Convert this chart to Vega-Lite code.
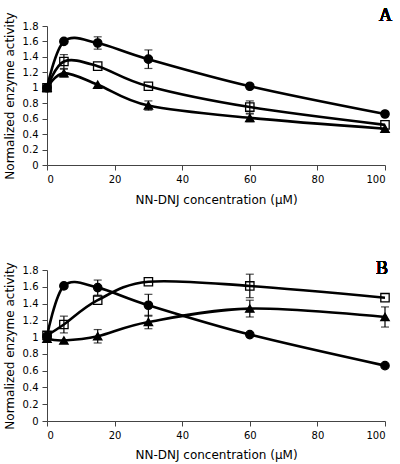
{
  "$schema": "https://vega.github.io/schema/vega-lite/v6.json",
  "padding": {"left": 3, "top": 6, "right": 5, "bottom": 2},
  "spacing": 54,
  "background": "white",
  "data": {"values": [
    {"panel": "A", "series": "circle", "x": 0, "y": 1.0, "err": 0},
    {"panel": "A", "series": "circle", "x": 5, "y": 1.6, "err": 0},
    {"panel": "A", "series": "circle", "x": 15, "y": 1.58, "err": 0.08},
    {"panel": "A", "series": "circle", "x": 30, "y": 1.37, "err": 0.12},
    {"panel": "A", "series": "circle", "x": 60, "y": 1.02, "err": 0},
    {"panel": "A", "series": "circle", "x": 100, "y": 0.66, "err": 0},
    {"panel": "A", "series": "square", "x": 0, "y": 1.0, "err": 0},
    {"panel": "A", "series": "square", "x": 5, "y": 1.34, "err": 0.09},
    {"panel": "A", "series": "square", "x": 15, "y": 1.28, "err": 0},
    {"panel": "A", "series": "square", "x": 30, "y": 1.02, "err": 0},
    {"panel": "A", "series": "square", "x": 60, "y": 0.75, "err": 0.08},
    {"panel": "A", "series": "square", "x": 100, "y": 0.52, "err": 0},
    {"panel": "A", "series": "triangle", "x": 0, "y": 1.0, "err": 0},
    {"panel": "A", "series": "triangle", "x": 5, "y": 1.19, "err": 0.05},
    {"panel": "A", "series": "triangle", "x": 15, "y": 1.04, "err": 0},
    {"panel": "A", "series": "triangle", "x": 30, "y": 0.77, "err": 0.06},
    {"panel": "A", "series": "triangle", "x": 60, "y": 0.61, "err": 0.05},
    {"panel": "A", "series": "triangle", "x": 100, "y": 0.47, "err": 0},
    {"panel": "B", "series": "circle", "x": 0, "y": 1.01, "err": 0},
    {"panel": "B", "series": "circle", "x": 5, "y": 1.61, "err": 0},
    {"panel": "B", "series": "circle", "x": 15, "y": 1.59, "err": 0.09},
    {"panel": "B", "series": "circle", "x": 30, "y": 1.38, "err": 0.13},
    {"panel": "B", "series": "circle", "x": 60, "y": 1.03, "err": 0},
    {"panel": "B", "series": "circle", "x": 100, "y": 0.66, "err": 0},
    {"panel": "B", "series": "square", "x": 0, "y": 1.02, "err": 0},
    {"panel": "B", "series": "square", "x": 5, "y": 1.15, "err": 0.1},
    {"panel": "B", "series": "square", "x": 15, "y": 1.44, "err": 0},
    {"panel": "B", "series": "square", "x": 30, "y": 1.66, "err": 0},
    {"panel": "B", "series": "square", "x": 60, "y": 1.61, "err": 0.14},
    {"panel": "B", "series": "square", "x": 100, "y": 1.47, "err": 0},
    {"panel": "B", "series": "triangle", "x": 0, "y": 0.98, "err": 0},
    {"panel": "B", "series": "triangle", "x": 5, "y": 0.96, "err": 0},
    {"panel": "B", "series": "triangle", "x": 15, "y": 1.01, "err": 0.08},
    {"panel": "B", "series": "triangle", "x": 30, "y": 1.18, "err": 0.08},
    {"panel": "B", "series": "triangle", "x": 60, "y": 1.34, "err": 0.1},
    {"panel": "B", "series": "triangle", "x": 100, "y": 1.24, "err": 0.12}
  ]},
  "config": {
    "view": {"stroke": null},
    "font": "DejaVu Sans",
    "axis": {
      "grid": false,
      "domainColor": "#444",
      "tickColor": "#444",
      "tickSize": 5,
      "labelColor": "black",
      "labelFont": "DejaVu Sans",
      "labelFontSize": 10,
      "titleFont": "DejaVu Sans",
      "titleFontSize": 12,
      "titleFontWeight": "normal",
      "titleColor": "black"
    }
  },
  "vconcat": [
    {
      "width": 338,
      "height": 139,
      "transform": [{"filter": "datum.panel == 'A'"}],
      "encoding": {
        "x": {"field": "x", "type": "quantitative", "scale": {"domain": [0, 100], "nice": false},
              "axis": {"values": [0, 20, 40, 60, 80, 100], "title": "NN-DNJ concentration (\u03bcM)", "labelPadding": 4, "titlePadding": 10}},
        "y": {"field": "y", "type": "quantitative", "scale": {"domain": [0, 1.8], "nice": false},
              "axis": {"values": [0, 0.2, 0.4, 0.6, 0.8, 1, 1.2, 1.4, 1.6, 1.8], "format": ".1~f", "title": "Normalized enzyme activity", "labelPadding": 4, "titlePadding": 6}}
      },
      "layer": [
        {"mark": {"type": "line", "interpolate": "cardinal", "color": "black", "strokeWidth": 2.6},
         "encoding": {"detail": {"field": "series"}}},
        {"transform": [{"filter": "datum.err > 0"}],
         "mark": {"type": "errorbar", "color": "black", "thickness": 1.2, "ticks": {"size": 8, "color": "black"}},
         "encoding": {"yError": {"field": "err"}}},
        {"mark": {"type": "point", "filled": true, "opacity": 1, "size": 70, "stroke": "black", "strokeWidth": 1.3},
         "encoding": {
           "shape": {"field": "series", "type": "nominal", "scale": {"domain": ["circle", "square", "triangle"], "range": ["circle", "square", "triangle-up"]}, "legend": null},
           "fill": {"field": "series", "type": "nominal", "scale": {"domain": ["circle", "square", "triangle"], "range": ["black", "transparent", "black"]}, "legend": null}
         }},
        {"mark": {"type": "text", "text": "A", "font": "Liberation Serif", "fontSize": 18, "fontWeight": "normal", "align": "right", "baseline": "alphabetic", "dx": 7, "color": "black"},
         "encoding": {"x": {"datum": 100}, "y": {"datum": 1.865}}}
      ]
    },
    {
      "width": 338,
      "height": 151,
      "transform": [{"filter": "datum.panel == 'B'"}],
      "encoding": {
        "x": {"field": "x", "type": "quantitative", "scale": {"domain": [0, 100], "nice": false},
              "axis": {"values": [0, 20, 40, 60, 80, 100], "title": "NN-DNJ concentration (\u03bcM)", "labelPadding": 4, "titlePadding": 9}},
        "y": {"field": "y", "type": "quantitative", "scale": {"domain": [0, 1.8], "nice": false},
              "axis": {"values": [0, 0.2, 0.4, 0.6, 0.8, 1, 1.2, 1.4, 1.6, 1.8], "format": ".1~f", "title": "Normalized enzyme activity", "labelPadding": 4, "titlePadding": 6}}
      },
      "layer": [
        {"mark": {"type": "line", "interpolate": "cardinal", "color": "black", "strokeWidth": 2.6},
         "encoding": {"detail": {"field": "series"}}},
        {"transform": [{"filter": "datum.err > 0"}],
         "mark": {"type": "errorbar", "color": "black", "thickness": 1.2, "ticks": {"size": 8, "color": "black"}},
         "encoding": {"yError": {"field": "err"}}},
        {"mark": {"type": "point", "filled": true, "opacity": 1, "size": 70, "stroke": "black", "strokeWidth": 1.3},
         "encoding": {
           "shape": {"field": "series", "type": "nominal", "scale": {"domain": ["circle", "square", "triangle"], "range": ["circle", "square", "triangle-up"]}, "legend": null},
           "fill": {"field": "series", "type": "nominal", "scale": {"domain": ["circle", "square", "triangle"], "range": ["black", "transparent", "black"]}, "legend": null}
         }},
        {"mark": {"type": "text", "text": "B", "font": "Liberation Serif", "fontSize": 18, "fontWeight": "normal", "align": "right", "baseline": "alphabetic", "dx": 3, "color": "black"},
         "encoding": {"x": {"datum": 100}, "y": {"datum": 1.756}}}
      ]
    }
  ]
}
